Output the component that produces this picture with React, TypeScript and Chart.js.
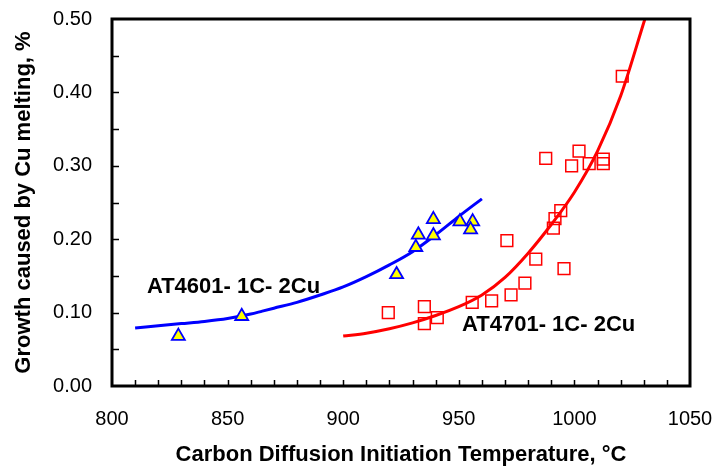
import React, { useEffect, useRef } from "react";
import { Chart, registerables } from "chart.js";

Chart.register(...registerables);

// ---- Data ----
const xTickValues = [800, 850, 900, 950, 1000, 1050];
const yTickValues = [0, 0.1, 0.2, 0.3, 0.4, 0.5];

const at4601Temp = [828.7, 856.1, 923.1, 931.4, 932.5, 939.0, 939.0, 950.5, 956.0, 955.1];
const at4601Growth = [0.068, 0.095, 0.152, 0.189, 0.206, 0.227, 0.205, 0.224, 0.224, 0.213];

const at4701Temp = [919.5, 935.1, 935.1, 940.7, 955.8, 964.2, 972.6, 978.6, 983.3, 970.8, 995.5, 990.9, 991.6, 994.1, 987.6, 998.8, 1002.0, 1006.4, 1012.5, 1012.5, 1020.7];
const at4701Growth = [0.100, 0.108, 0.085, 0.093, 0.114, 0.116, 0.124, 0.140, 0.173, 0.198, 0.160, 0.215, 0.228, 0.239, 0.310, 0.300, 0.320, 0.303, 0.309, 0.303, 0.422];

const fit4601Temp = [810, 820, 830, 840, 850, 860, 865, 870, 880, 890, 900, 910, 920, 930, 940, 950, 960];
const fit4601Growth = [0.079, 0.082, 0.085, 0.088, 0.092, 0.098, 0.102, 0.106, 0.114, 0.124, 0.135, 0.149, 0.165, 0.183, 0.206, 0.231, 0.255];

const fit4701Temp = [900, 910, 920, 930, 940, 950, 960, 970, 980, 990, 1000, 1010, 1020, 1030.5];
const fit4701Growth = [0.068, 0.072, 0.078, 0.086, 0.096, 0.108, 0.124, 0.148, 0.181, 0.220, 0.264, 0.320, 0.395, 0.5];

const seriesLabels = ["AT4601- 1C- 2Cu", "AT4701- 1C- 2Cu"];
const labelAnchors = [
  { x: 815.1, y: 0.1355 },
  { x: 951.4, y: 0.0832 },
];

const xTitle = "Carbon Diffusion Initiation Temperature, °C";
const yTitle = "Growth caused by Cu melting, %";

const FONT = "'Liberation Sans', Arial, Helvetica, sans-serif";

const toXY = (xs: number[], ys: number[]) => xs.map((x, i) => ({ x, y: ys[i] }));

const framePlugin = {
  id: "framePlugin",
  afterDatasetsDraw(chart: any) {
    const { ctx, chartArea, scales } = chart;
    const xs = scales.x;
    const ys = scales.y;
    ctx.save();
    ctx.strokeStyle = "#000";
    ctx.lineWidth = 1.5;
    ctx.beginPath();
    for (let v = 810; v < 1050; v += 10) {
      const px = Math.round(xs.getPixelForValue(v)) + 0.5;
      ctx.moveTo(px, chartArea.bottom);
      ctx.lineTo(px, chartArea.bottom - 6);
    }
    for (let i = 1; i < 10; i++) {
      const py = Math.round(ys.getPixelForValue(i * 0.05)) + 0.5;
      ctx.moveTo(chartArea.left, py);
      ctx.lineTo(chartArea.left + 7, py);
    }
    ctx.stroke();
    ctx.lineWidth = 3;
    ctx.strokeRect(chartArea.left, chartArea.top, chartArea.right - chartArea.left, chartArea.bottom - chartArea.top);
    ctx.fillStyle = "#000";
    ctx.font = `bold 22px ${FONT}`;
    ctx.textAlign = "left";
    ctx.textBaseline = "middle";
    seriesLabels.forEach((t, i) => {
      ctx.fillText(t, xs.getPixelForValue(labelAnchors[i].x), ys.getPixelForValue(labelAnchors[i].y));
    });
    ctx.restore();
  },
};

export default function App() {
  const ref = useRef<HTMLCanvasElement | null>(null);

  useEffect(() => {
    document.body.style.margin = "0";
    const canvas = ref.current;
    if (!canvas) return;
    const chart = new Chart(canvas, {
      type: "scatter",
      data: {
        datasets: [
          {
            label: "AT4601 data",
            data: toXY(at4601Temp, at4601Growth),
            pointStyle: "triangle",
            pointRadius: 7.5,
            backgroundColor: "#ffff00",
            borderColor: "#0000ff",
            borderWidth: 1.8,
            showLine: false,
            order: 0,
          },
          {
            label: "AT4701 data",
            data: toXY(at4701Temp, at4701Growth),
            pointStyle: "rect",
            pointRadius: 8.3,
            backgroundColor: "rgba(0,0,0,0)",
            borderColor: "#ff0000",
            borderWidth: 1.5,
            showLine: false,
            order: 1,
          },
          {
            label: "AT4601 fit",
            data: toXY(fit4601Temp, fit4601Growth),
            showLine: true,
            pointRadius: 0,
            borderColor: "#0000ff",
            borderWidth: 3,
            cubicInterpolationMode: "monotone",
            fill: false,
            order: 2,
          },
          {
            label: "AT4701 fit",
            data: toXY(fit4701Temp, fit4701Growth),
            showLine: true,
            pointRadius: 0,
            borderColor: "#ff0000",
            borderWidth: 3,
            cubicInterpolationMode: "monotone",
            fill: false,
            order: 3,
          },
        ],
      } as any,
      options: {
        animation: false,
        responsive: false,
        devicePixelRatio: 1,
        layout: { padding: { top: 19, right: 34, left: 0, bottom: 0 } },
        plugins: {
          legend: { display: false },
          tooltip: { enabled: false },
        },
        scales: {
          x: {
            type: "linear",
            min: 800,
            max: 1050,
            afterBuildTicks: (s: any) => {
              s.ticks = xTickValues.map((v) => ({ value: v }));
            },
            afterFit: (s: any) => {
              s.height = 82;
              s.paddingLeft = 0;
              s.paddingRight = 0;
            },
            grid: { display: false, drawTicks: false },
            border: { display: false },
            ticks: {
              color: "#000",
              font: { family: FONT, size: 20 },
              padding: 21,
              maxRotation: 0,
              callback: (v: any) => String(v),
            },
            title: {
              display: true,
              text: xTitle,
              color: "#000",
              font: { family: FONT, size: 22, weight: "bold" },
              padding: { top: 0, bottom: 0 },
            },
          },
          y: {
            type: "linear",
            min: 0,
            max: 0.5,
            afterBuildTicks: (s: any) => {
              s.ticks = yTickValues.map((v) => ({ value: v }));
            },
            afterFit: (s: any) => {
              s.width = 112;
              s.paddingTop = 0;
              s.paddingBottom = 0;
            },
            grid: { display: false, drawTicks: false },
            border: { display: false },
            ticks: {
              color: "#000",
              font: { family: FONT, size: 20 },
              padding: 20,
              callback: (v: any) => Number(v).toFixed(2),
            },
            title: {
              display: true,
              text: yTitle,
              color: "#000",
              font: { family: FONT, size: 22, weight: "bold" },
              padding: { top: 11, bottom: 0 },
            },
          },
        },
      } as any,
      plugins: [framePlugin],
    });
    return () => chart.destroy();
  }, []);

  return (
    <div style={{ width: 724, height: 468, background: "#fff" }}>
      <canvas ref={ref} width={724} height={468} style={{ width: 724, height: 468, display: "block" }} />
    </div>
  );
}
